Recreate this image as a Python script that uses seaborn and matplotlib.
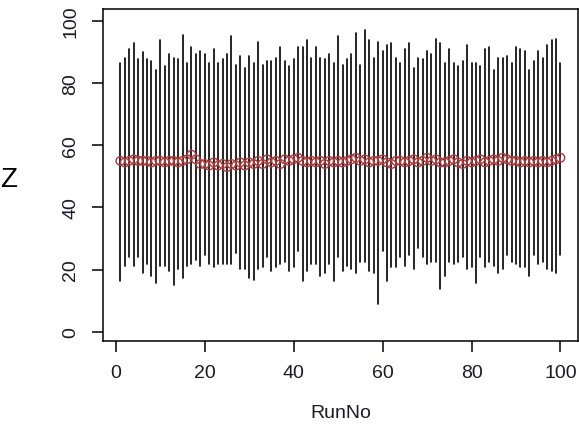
import numpy as np
import pandas as pd
import matplotlib
matplotlib.use("Agg")
import matplotlib.pyplot as plt
import seaborn as sns

run_no = list(range(1, 101))

z_max = [86.5, 88.2, 91.0, 92.8, 87.7, 89.9, 87.7, 87.0, 84.2, 93.9,
         85.4, 89.4, 88.2, 87.7, 95.6, 86.5, 91.6, 89.4, 90.4, 89.4,
         86.5, 91.0, 86.5, 87.7, 89.4, 95.1, 85.9, 88.7, 84.8, 88.7,
         86.5, 93.3, 85.9, 87.0, 87.0, 88.2, 91.6, 87.0, 85.4, 87.7,
         91.6, 91.6, 93.9, 88.2, 91.6, 88.2, 87.7, 89.4, 86.5, 95.1,
         85.9, 87.7, 89.4, 96.2, 85.9, 97.3, 93.9, 88.2, 93.3, 90.4,
         92.2, 92.8, 88.2, 86.5, 91.0, 92.8, 84.8, 88.2, 87.7, 90.4,
         89.4, 94.4, 92.8, 86.5, 91.0, 86.5, 85.4, 87.0, 92.2, 86.5,
         86.5, 85.4, 91.0, 91.6, 84.2, 88.2, 88.2, 88.7, 86.5, 91.6,
         91.0, 90.4, 84.2, 87.0, 90.4, 88.2, 92.2, 93.9, 94.4, 86.5]

z_min = [16.2, 21.3, 24.2, 21.3, 24.2, 19.0, 21.8, 18.0, 15.6, 21.3,
         21.3, 19.5, 15.0, 20.2, 17.3, 21.3, 21.8, 23.0, 21.3, 24.7,
         21.8, 20.7, 21.8, 21.8, 21.8, 21.8, 25.3, 20.2, 20.2, 17.3,
         16.7, 20.2, 20.7, 24.2, 19.5, 20.7, 21.8, 22.4, 19.5, 20.7,
         25.9, 16.2, 19.5, 21.8, 21.8, 18.0, 19.0, 21.8, 16.2, 24.2,
         19.5, 21.3, 20.2, 19.0, 22.4, 22.4, 19.5, 19.0, 8.8, 25.9,
         16.2, 20.7, 20.7, 24.2, 21.3, 24.7, 20.2, 26.9, 24.2, 21.8,
         22.4, 22.4, 13.8, 18.0, 22.4, 21.8, 22.4, 24.2, 20.2, 20.7,
         15.6, 24.2, 20.7, 22.4, 21.3, 18.9, 20.2, 24.7, 22.4, 21.8,
         20.7, 20.7, 18.0, 24.7, 21.8, 22.4, 20.2, 19.5, 18.9, 24.7]

z_mean = [55, 54.5, 55, 55.5, 55, 55, 55, 54.5, 55, 55,
          54.5, 55, 55, 54.5, 55, 55.5, 57, 55.5, 54, 54,
          53.5, 54.5, 53.5, 54, 53, 54, 53.5, 54.5, 53.5, 54.5,
          54, 55, 54, 55.5, 54.5, 55, 54, 55.5, 55, 55.5,
          56, 55, 54.5, 55, 54.5, 55, 54, 55, 54.5, 55,
          54.5, 55, 55.5, 56, 55, 55.5, 54.5, 55, 55, 55.5,
          54.5, 54, 55, 55, 54.5, 55, 55.5, 54.5, 55, 56,
          55, 55.5, 54.5, 54.5, 55, 55.5, 54.5, 54, 55, 54.5,
          55, 55.5, 54.5, 55, 55.5, 55, 56, 55.5, 55, 55,
          54.5, 55, 54.5, 55, 54.5, 55, 54.5, 55, 55.5, 56]

x_ticks = [0, 20, 40, 60, 80, 100]
y_ticks = [0, 20, 40, 60, 80, 100]

sns.set_style("ticks")
plt.rcParams['font.family'] = ['Liberation Sans', 'DejaVu Sans']

range_df = pd.DataFrame({
    "RunNo": run_no * 2,
    "Z": z_max + z_min,
})
mean_df = pd.DataFrame({"RunNo": run_no, "Z": z_mean})

fig = plt.figure(figsize=(5.79, 4.39), dpi=100)
ax = fig.add_axes([0.1774, 0.2216, 0.8209, 0.7556])

sns.lineplot(data=range_df, x="RunNo", y="Z", units="RunNo", estimator=None,
             color="black", linewidth=1.2, ax=ax, legend=False)
sns.scatterplot(data=mean_df, x="RunNo", y="Z", marker="o", s=38,
                facecolors="none", edgecolor="#ad3a3c", linewidth=1.0,
                ax=ax, legend=False, zorder=3)

ax.set_xlim(-2.96, 103.96)
ax.set_ylim(-2.9, 103.9)
ax.set_xticks(x_ticks)
ax.set_yticks(y_ticks)
ax.set_xticklabels([str(t) for t in x_ticks], fontsize=14)
ax.set_yticklabels([str(t) for t in y_ticks], fontsize=14, rotation=90, va="center")
ax.tick_params(axis="both", direction="out", length=8, width=1.1, color="black",
               labelcolor="#1a1a2a", pad=9)
for sp in ax.spines.values():
    sp.set_visible(True)
    sp.set_color("black")
    sp.set_linewidth(1.1)

ax.set_xlabel("RunNo", fontsize=14, labelpad=16, color="#1a1a2a")
ax.set_ylabel("")
fig.text(8.5 / 579, 1 - 180 / 439, "Z", fontsize=20, ha="center", va="center", color="black")

fig.savefig("out.png", dpi=100)
